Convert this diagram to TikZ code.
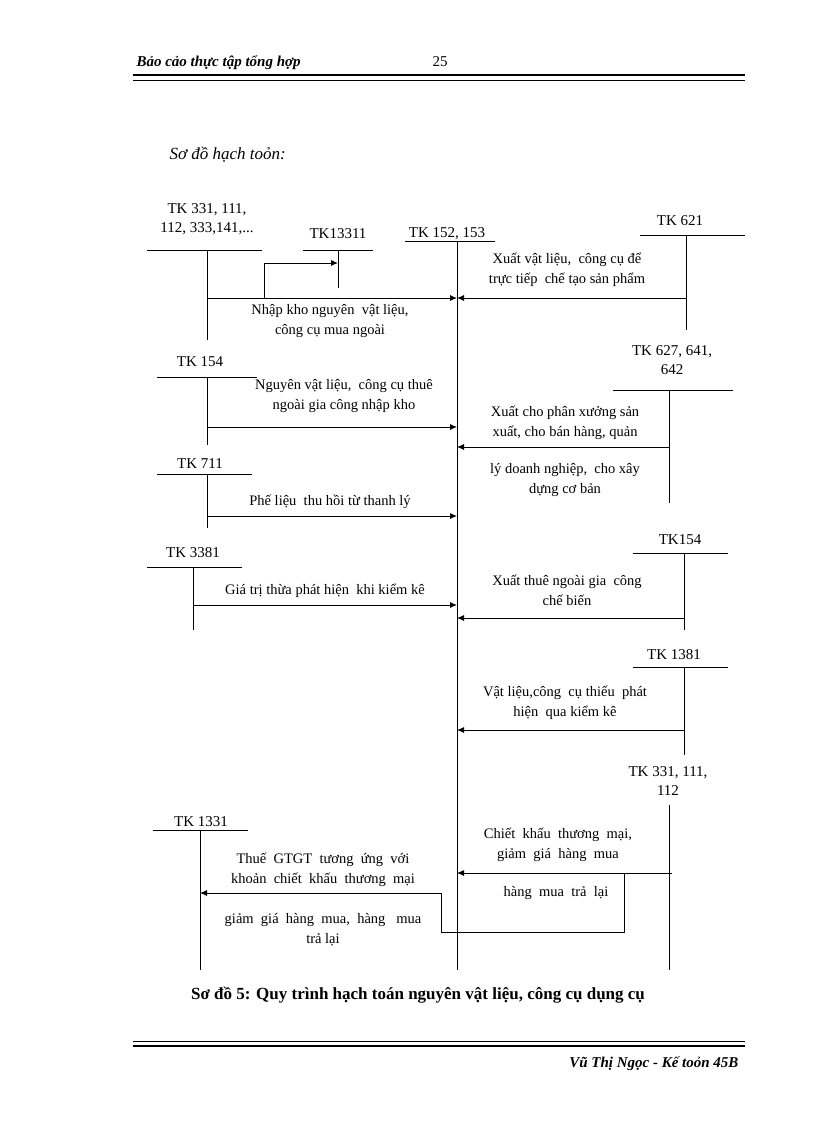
\documentclass[tikz,border=0pt]{standalone}
\usepackage{fontspec}
\setmainfont{Liberation Serif}
\usetikzlibrary{arrows.meta}
\begin{document}
\begin{tikzpicture}[x=1pt,y=-1pt,
  acc/.style={line width=0.9pt},
  arr/.style={line width=0.9pt,-{Latex[length=7pt,width=6pt]}},
  lbl/.style={font=\fontsize{15}{19}\selectfont,align=center,inner sep=0pt},
  txt/.style={font=\fontsize{14.5}{20}\selectfont,align=center,inner sep=0pt}]
\useasboundingbox (0,0) rectangle (816,1123);
% header / footer
\node[anchor=west,font=\bfseries\itshape\fontsize{15}{17}\selectfont] (hd) at (133,63) {Bảo cảo thực tập tổng hợp};
\node[font=\fontsize{15}{17}\selectfont] (pg) at (440,62) {25};
\draw[line width=2.5pt] (133,75) -- (745,75);
\draw[line width=0.7pt] (133,80) -- (745,80);
\draw[line width=2.5pt] (133,1046) -- (745,1046);
\draw[line width=0.7pt] (133,1041) -- (745,1041);
\node[anchor=east,font=\bfseries\itshape\fontsize{15}{17}\selectfont] (ft) at (742,1064) {Vũ Thị Ngọc - Kế toỏn 45B};
\node[anchor=west,font=\itshape\fontsize{17}{19}\selectfont] (tt) at (166,155) {Sơ đồ hạch toỏn:};
\node[font=\bfseries\fontsize{17}{19}\selectfont] (cap) at (418,995) {Sơ đồ 5: Quy trình hạch toán nguyên vật liệu, công cụ dụng cụ};
% central account
\node[lbl] (c) at (447,234) {TK 152, 153};
\draw[acc] (405,241) -- (495,241);
\coordinate (cT) at (457,241); \coordinate (cB) at (457,970);
\draw[acc] (cT) -- (cB);
% TK 331 left
\node[lbl] (a1) at (207,219) {TK 331, 111,\\112, 333,141,...};
\draw[acc] (147,250) -- (262,250);
\draw[acc] (207,250) -- (207,340);
\node[lbl] (a2) at (338,234) {TK13311};
\draw[acc] (303,250) -- (373,250);
\draw[acc] (338,250) -- (338,288);
\coordinate (b1) at (264,298); \coordinate (b2) at (264,263); \coordinate (b3) at (338,263);
\draw[arr] (b1) -- (b2) -- (b3);
\coordinate (p1) at (207,298); \coordinate (q1) at (457,298);
\draw[arr] (p1) -- (q1);
\node[txt] (t1) at (330,321) {Nhập kho nguyên \ vật liệu,\\công cụ mua ngoài};
% TK 621
\node[lbl] (r1) at (680,221) {TK 621};
\draw[acc] (640,235) -- (745,235);
\draw[acc] (686,235) -- (686,330);
\coordinate (p2) at (686,298);
\draw[arr] (p2) -- (q1);
\node[txt] (t2) at (567,270) {Xuất vật liệu, \ công cụ để\\trực tiếp \ chế tạo sản phẩm};
% TK 154 left
\node[lbl] (a3) at (200,362) {TK 154};
\draw[acc] (157,377) -- (257,377);
\draw[acc] (207,377) -- (207,445);
\coordinate (p3) at (207,427); \coordinate (q3) at (457,427);
\draw[arr] (p3) -- (q3);
\node[txt] (t3) at (344,396) {Nguyên vật liệu, \ công cụ thuê\\ngoài gia công nhập kho};
% TK 627
\node[lbl] (r2) at (672,360) {TK 627, 641,\\642};
\draw[acc] (613,390) -- (733,390);
\draw[acc] (669,390) -- (669,503);
\coordinate (p4) at (669,447); \coordinate (q4) at (457,447);
\draw[arr] (p4) -- (q4);
\node[txt] (t4a) at (565,423) {Xuất cho phân xưởng sản\\xuất, cho bán hàng, quản};
\node[txt] (t4b) at (565,480) {lý doanh nghiệp, \ cho xây\\dựng cơ bản};
% TK 711
\node[lbl] (a4) at (200,464) {TK 711};
\draw[acc] (157,474) -- (252,474);
\draw[acc] (207,474) -- (207,528);
\coordinate (p5) at (207,516); \coordinate (q5) at (457,516);
\draw[arr] (p5) -- (q5);
\node[txt] (t5) at (330,502) {Phế liệu \ thu hồi từ thanh lý};
% TK 3381
\node[lbl] (a5) at (193,553) {TK 3381};
\draw[acc] (147,567) -- (242,567);
\draw[acc] (193,567) -- (193,630);
\coordinate (p6) at (193,605); \coordinate (q6) at (457,605);
\draw[arr] (p6) -- (q6);
\node[txt] (t6) at (325,591) {Giá trị thừa phát hiện \ khi kiểm kê};
% TK154 right
\node[lbl] (r3) at (680,540) {TK154};
\draw[acc] (633,553) -- (728,553);
\draw[acc] (684,553) -- (684,630);
\coordinate (p7) at (684,618); \coordinate (q7) at (457,618);
\draw[arr] (p7) -- (q7);
\node[txt] (t7) at (567,590) {Xuất thuê ngoài gia \ công\\chế biến};
% TK 1381
\node[lbl] (r4) at (674,655) {TK 1381};
\draw[acc] (633,667) -- (728,667);
\draw[acc] (684,667) -- (684,755);
\coordinate (p8) at (684,730); \coordinate (q8) at (457,730);
\draw[arr] (p8) -- (q8);
\node[txt] (t8) at (565,703) {Vật liệu,công \ cụ thiếu \ phát\\hiện \ qua kiểm kê};
% TK 331 right
\node[lbl] (r5) at (668,781) {TK 331, 111,\\112};
\draw[acc] (669,805) -- (669,970);
\coordinate (p9) at (672,873); \coordinate (q9) at (457,873);
\draw[arr] (p9) -- (q9);
\node[txt] (t9) at (558,845) {Chiết \ khấu \ thương \ mại,\\giảm \ giá \ hàng \ mua};
\node[txt] (t9b) at (556,893) {hàng \ mua \ trả \ lại};
% TK 1331
\node[lbl] (a6) at (201,822) {TK 1331};
\draw[acc] (153,830) -- (248,830);
\draw[acc] (200,830) -- (200,970);
\coordinate (d1) at (624,873); \coordinate (d2) at (624,932); \coordinate (d3) at (441,932);
\coordinate (d4) at (441,893); \coordinate (q10) at (200,893);
\draw[arr] (d1) -- (d2) -- (d3) -- (d4) -- (q10);
\node[txt] (t10a) at (323,870) {Thuế \ GTGT \ tương \ ứng \ với\\khoản \ chiết \ khấu \ thương \ mại};
\node[txt] (t10b) at (323,930) {giảm \ giá \ hàng \ mua, \ hàng \ \ mua\\trả lại};
\end{tikzpicture}
\end{document}
